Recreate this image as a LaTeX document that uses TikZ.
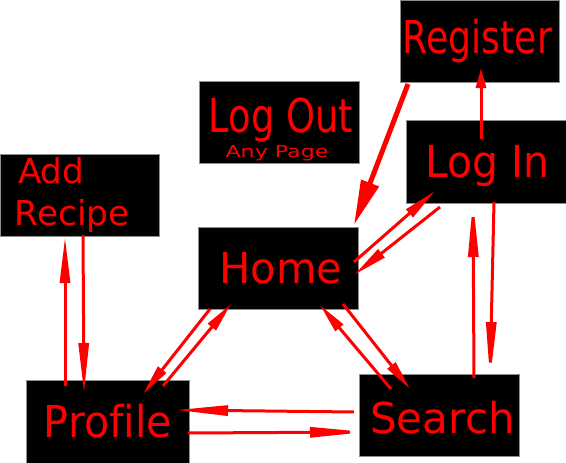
\documentclass[tikz,border=0pt]{standalone}
\usepackage{fontspec}
\setmainfont[Ligatures=NoCommon]{DejaVu Sans}
\usetikzlibrary{arrows.meta}
\begin{document}
\begin{tikzpicture}[x=1pt,y=-1pt,
  box/.style={draw=black!45, line width=0.8pt, fill=black, inner sep=0pt, outer sep=0pt},
  lbl/.style={text=red, inner sep=0pt, outer sep=0pt, anchor=base},
  arr/.style={draw=red, line width=3pt, -{Triangle[length=#1,width=10pt]}},
  bigarr/.style={draw=red, line width=5pt, -{Triangle[length=45pt,width=18pt]}}
  ]
\useasboundingbox (0,0) rectangle (566,463);
% boxes
\node[box, minimum width=159pt, minimum height=82pt] (register) at (479.5,41) {};
\node[box, minimum width=160pt, minimum height=83pt] (login) at (486,161.5) {};
\node[box, minimum width=160pt, minimum height=82pt] (logout) at (279,122) {};
\node[box, minimum width=160pt, minimum height=82pt] (home) at (278,268) {};
\node[box, minimum width=159pt, minimum height=82pt] (addrecipe) at (79.5,195) {};
\node[box, minimum width=163pt, minimum height=83pt] (profile) at (107.5,421.5) {};
\node[box, minimum width=160pt, minimum height=82pt] (search) at (439,415) {};
% labels
\node[lbl] (registerT) at (477.5,53) {\fontsize{45.3}{50}\selectfont\scalebox{0.8}[1]{Register}};
\node[lbl] (loginT) at (487.5,177) {\fontsize{43.9}{50}\selectfont\scalebox{0.93}[1]{Log In}};
\node[lbl] (logoutT) at (281,132) {\fontsize{46.6}{50}\selectfont\scalebox{0.79}[1]{Log Out}};
\node[lbl] (anypageT) at (277,157) {\fontsize{16.5}{18}\selectfont\scalebox{1.34}[1]{Any Page}};
\node[lbl] (homeT) at (281,283) {\fontsize{42.5}{50}\selectfont\scalebox{0.98}[1]{Home}};
\node[lbl, anchor=base west] (addT) at (18,183) {\fontsize{34.3}{40}\selectfont Add};
\node[lbl, anchor=base west] (recipeT) at (15,225) {\fontsize{34.3}{40}\selectfont Recipe};
\node[lbl] (profileT) at (108,437) {\fontsize{43.9}{50}\selectfont\scalebox{0.94}[1]{Profile}};
\node[lbl] (searchT) at (442.5,433) {\fontsize{42.5}{50}\selectfont\scalebox{0.99}[1]{Search}};
% connector end points
\coordinate (liR0) at (481,139);  \coordinate (liR1) at (481,68);
\coordinate (rgH0) at (408,84);   \coordinate (rgH1) at (354,225);
\coordinate (hL0) at (354,262);   \coordinate (hL1) at (435,191);
\coordinate (lH0) at (440,207);   \coordinate (lH1) at (354,275);
\coordinate (hP0) at (210,309);   \coordinate (hP1) at (143,394);
\coordinate (pH0) at (163,386);   \coordinate (pH1) at (231,304);
\coordinate (sH0) at (391,389);   \coordinate (sH1) at (320,305);
\coordinate (hS0) at (343,304);   \coordinate (hS1) at (410,389);
\coordinate (pA0) at (65,386);    \coordinate (pA1) at (65,237);
\coordinate (aP0) at (83,235);    \coordinate (aP1) at (84,393);
\coordinate (sP0) at (354,412);   \coordinate (sP1) at (176,410);
\coordinate (pS0) at (188,433);   \coordinate (pS1) at (367,432);
\coordinate (sL0) at (474,378);   \coordinate (sL1) at (473,200);
\coordinate (lS0) at (494,202);   \coordinate (lS1) at (490,380);
% connectors
\draw[arr=20pt] (liR0) -- (liR1);
\draw[bigarr] (rgH0) -- (rgH1);
\draw[arr=34pt] (hL0) -- (hL1);
\draw[arr=35pt] (lH0) -- (lH1);
\draw[arr=31pt] (hP0) -- (hP1);
\draw[arr=30pt] (pH0) -- (pH1);
\draw[arr=30pt] (sH0) -- (sH1);
\draw[arr=30pt] (hS0) -- (hS1);
\draw[arr=46pt] (pA0) -- (pA1);
\draw[arr=50pt] (aP0) -- (aP1);
\draw[arr=52pt] (sP0) -- (sP1);
\draw[arr=57pt] (pS0) -- (pS1);
\draw[arr=57pt] (sL0) -- (sL1);
\draw[arr=58pt] (lS0) -- (lS1);
\end{tikzpicture}
\end{document}
